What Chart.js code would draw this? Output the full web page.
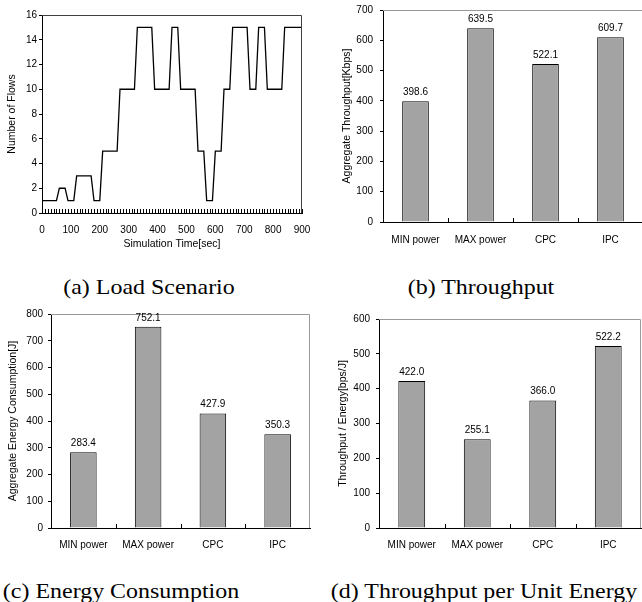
<!DOCTYPE html>
<html>
<head>
<meta charset="utf-8">
<script src="https://cdn.jsdelivr.net/npm/chart.js@4.4.1/dist/chart.umd.min.js"></script>
<style>
  body { margin: 0; background: #fff; width: 642px; height: 602px; overflow: hidden; position: relative; }
  .panel { position: absolute; }
  .caption {
    position: absolute;
    font-family: "Liberation Serif", "Times New Roman", serif;
    font-size: 21px;
    white-space: nowrap;
    transform: translate(-50%, -50%) scaleX(1.14);
  }
</style>
</head>
<body>
<div class="panel" style="left:0;top:0"><canvas id="loadChart" width="320" height="260"></canvas></div>
<div class="panel" style="left:320px;top:0"><canvas id="thrChart" width="330" height="260"></canvas></div>
<div class="panel" style="left:0;top:300px"><canvas id="energyChart" width="320" height="260"></canvas></div>
<div class="panel" style="left:320px;top:300px"><canvas id="perChart" width="322" height="260"></canvas></div>

<div class="caption" style="left:149px;top:287px">(a) Load Scenario</div>
<div class="caption" style="left:481px;top:287px">(b) Throughput</div>
<div class="caption" style="left:121px;top:591px">(c) Energy Consumption</div>
<div class="caption" style="left:484px;top:591px">(d) Throughput per Unit Energy</div>

<script>
// load scenario: number of flows over simulation time
const timeSec = [0, 50, 60, 80, 90, 110, 120, 170, 180, 200,
  210, 260, 270, 320, 330, 380, 390, 440, 450, 470,
  480, 530, 540, 560, 570, 590, 600, 620, 630, 650,
  660, 710, 720, 740, 750, 770, 780, 830, 840, 900];
const flows = [1, 1, 2, 2, 1, 1, 3, 3, 1, 1,
  5, 5, 10, 10, 15, 15, 10, 10, 15, 15,
  10, 10, 5, 5, 1, 1, 5, 5, 10, 10,
  15, 15, 10, 10, 15, 15, 10, 10, 15, 15];

// power control methods
const methods = ['MIN power', 'MAX power', 'CPC', 'IPC'];
const throughputKbps = [398.6, 639.5, 522.1, 609.7];
const energyJ = [283.4, 752.1, 427.9, 350.3];
const throughputPerEnergy = [422.0, 255.1, 366.0, 522.2];

Chart.defaults.font.family = '"Liberation Sans", Arial, sans-serif';
Chart.defaults.font.size = 10;
Chart.defaults.color = '#000';
Chart.defaults.animation = false;

// gray frame on top and right of the plot area
const plotFrame = {
  id: 'plotFrame',
  afterDatasetsDraw(chart, args, opts) {
    const a = chart.chartArea;
    const ctx = chart.ctx;
    ctx.save();
    ctx.strokeStyle = opts.color || '#999';
    ctx.lineWidth = 1;
    ctx.beginPath();
    ctx.moveTo(a.left, a.top + 0.5);
    ctx.lineTo(a.right - 0.5, a.top + 0.5);
    ctx.lineTo(a.right - 0.5, a.bottom);
    ctx.stroke();
    ctx.restore();
  }
};

// small tick marks pointing up into the plot from the x axis
const innerTicks = {
  id: 'innerTicks',
  afterDatasetsDraw(chart) {
    const x = chart.scales.x;
    const bottom = chart.chartArea.bottom;
    const ctx = chart.ctx;
    let positions;
    if (x.type === 'category') {
      // boundaries between categories
      positions = x.ticks.slice(1).map((t, i) => (x.getPixelForTick(i) + x.getPixelForTick(i + 1)) / 2);
    } else {
      positions = x.ticks.map(t => x.getPixelForValue(t.value));
    }
    ctx.save();
    ctx.strokeStyle = '#000';
    ctx.lineWidth = 1;
    ctx.beginPath();
    positions.forEach(p => {
      const px = Math.round(p) + 0.5;
      ctx.moveTo(px, bottom);
      ctx.lineTo(px, bottom - 4);
    });
    ctx.stroke();
    ctx.restore();
  }
};

// value label above each bar
const barValues = {
  id: 'barValues',
  afterDatasetsDraw(chart) {
    const ctx = chart.ctx;
    const meta = chart.getDatasetMeta(0);
    const values = chart.data.datasets[0].data;
    ctx.save();
    ctx.font = '10px "Liberation Sans", Arial, sans-serif';
    ctx.fillStyle = '#000';
    ctx.textAlign = 'center';
    ctx.textBaseline = 'middle';
    meta.data.forEach((bar, i) => {
      ctx.fillText(values[i].toFixed(1), bar.x, bar.y - 9);
    });
    ctx.restore();
  }
};

// pin axis size so the plot areas line up with the figure
const fixBox = size => scale => {
  if (scale.isHorizontal()) scale.height = size;
  else scale.width = size;
  scale.paddingLeft = scale.paddingRight = scale.paddingTop = scale.paddingBottom = 0;
};

new Chart(document.getElementById('loadChart'), {
  type: 'line',
  data: {
    datasets: [{
      data: timeSec.map((t, i) => ({ x: t, y: flows[i] })),
      borderColor: '#000',
      borderWidth: 1.3,
      pointRadius: 0,
      tension: 0,
      fill: false
    }]
  },
  options: {
    responsive: false,
    layout: { padding: { top: 15, right: 18, left: 0, bottom: 0 } },
    plugins: { legend: { display: false }, tooltip: { enabled: false }, plotFrame: { color: '#404040' } },
    scales: {
      x: {
        type: 'linear', min: 0, max: 900,
        afterFit: fixBox(47),
        ticks: {
          stepSize: 10, maxTicksLimit: 100, autoSkip: false, maxRotation: 0, padding: 11,
          callback: v => (v % 100 === 0 ? v : '')
        },
        grid: { drawOnChartArea: false, drawTicks: false },
        border: { color: '#000' },
        title: { display: true, text: 'Simulation Time[sec]', font: { size: 10.5 }, padding: { top: 0, bottom: 10 } }
      },
      y: {
        min: 0, max: 16,
        afterFit: fixBox(42),
        ticks: { stepSize: 2, padding: 2 },
        grid: { drawOnChartArea: false, tickLength: 3, color: '#000' },
        border: { color: '#000' },
        title: { display: true, text: 'Number of Flows', font: { size: 10.5 }, padding: { top: 6, bottom: 0 } }
      }
    }
  },
  plugins: [plotFrame, innerTicks]
});

function barChart(id, values, yMax, yTitle, box) {
  new Chart(document.getElementById(id), {
    type: 'bar',
    data: {
      labels: methods,
      datasets: [{
        data: values,
        backgroundColor: '#a3a3a3',
        borderColor: '#000',
        borderWidth: 1,
        barPercentage: 0.41,
        categoryPercentage: 1
      }]
    },
    options: {
      responsive: false,
      layout: { padding: { top: box.top, right: box.right, left: 0, bottom: 0 } },
      plugins: { legend: { display: false }, tooltip: { enabled: false } },
      scales: {
        x: {
          afterFit: fixBox(box.xh),
          ticks: { padding: box.xp, maxRotation: 0, autoSkip: false },
          grid: { drawOnChartArea: false, drawTicks: false },
          border: { color: '#000' }
        },
        y: {
          min: 0, max: yMax,
          afterFit: fixBox(box.yw),
          ticks: { stepSize: 100, padding: box.tp },
          grid: { drawOnChartArea: false, tickLength: 3, color: '#000' },
          border: { color: '#000' },
          title: { display: true, text: yTitle, font: { size: 10.5 }, padding: { top: box.tt, bottom: 0 } }
        }
      }
    },
    plugins: [plotFrame, innerTicks, barValues]
  });
}

barChart('thrChart', throughputKbps, 700, 'Aggregate Throughput[Kbps]',
  { top: 10, right: 7, xh: 38, yw: 63, tp: 7, tt: 21, xp: 12 });
barChart('energyChart', energyJ, 800, 'Aggregate Energy Consumption[J]',
  { top: 14, right: 10, xh: 32, yw: 51, tp: 5, tt: 7, xp: 11 });
barChart('perChart', throughputPerEnergy, 600, 'Throughput / Energy[bps/J]',
  { top: 19, right: 1, xh: 32, yw: 59, tp: 6, tt: 17, xp: 11 });
</script>
</body>
</html>
